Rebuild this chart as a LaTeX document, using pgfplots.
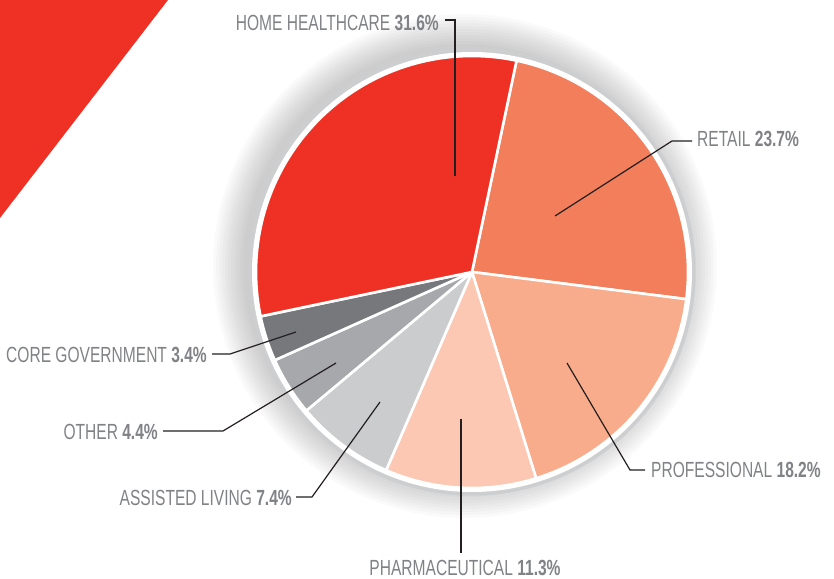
\documentclass[border=0pt]{standalone}
\usepackage{fontspec}
\setmainfont{Liberation Sans}[FakeStretch=0.71]
\usepackage{pgfplots}
\pgfplotsset{compat=1.18}
\definecolor{hhred}{HTML}{EE3124}
\definecolor{retail}{HTML}{F37E5B}
\definecolor{prof}{HTML}{F9AC8B}
\definecolor{pharma}{HTML}{FCC8B3}
\definecolor{assist}{HTML}{CBCCCE}
\definecolor{other}{HTML}{A7A8AB}
\definecolor{coregov}{HTML}{77787B}
\definecolor{txt}{HTML}{808285}
\definecolor{ring}{HTML}{CDCED0}
\definecolor{lead}{HTML}{231F20}
\tikzset{lbl/.style={inner sep=0pt, text=txt, font=\fontsize{22}{22}\selectfont}}
\begin{document}
\begin{tikzpicture}
\begin{axis}[
  at={(0,0)}, anchor=south west,
  scale only axis, width=834bp, height=579bp,
  xmin=0, xmax=834, ymin=0, ymax=579,
  hide axis, clip=true,
  every axis plot/.append style={no marks},
]
% red corner triangle
\addplot[fill=hhred, draw=none] coordinates {(0,579) (168,579) (0,361)} -- cycle;
% soft shadow (offset up-left)
\pgfplotsinvokeforeach{252,249,246,243,240,237,234,231,228,225,222}{
  \addplot[fill=black, fill opacity=0.018, draw=none, domain=0:360, samples=181]
    ({465+#1*cos(x)},{313+#1*sin(x)}) -- cycle;
}
% gray ring
\addplot[draw=ring, line width=3.5bp, domain=0:360, samples=241]
  ({472+222*cos(x)},{307+222*sin(x)}) -- cycle;
% white disc
\addplot[fill=white, draw=none, domain=0:360, samples=241]
  ({472+220*cos(x)},{307+220*sin(x)}) -- cycle;
% pie slices (percent * 3.6 deg, clockwise from 78.1 deg)
\pgfplotsset{slice/.style={draw=white, line width=2.6bp, line join=round, samples=90}}
% Retail 23.7
\addplot[slice, fill=retail, domain=-7.22:78.1] ({472+216*cos(x)},{307+216*sin(x)}) -- (axis cs:472,307) -- cycle;
% Professional 18.2
\addplot[slice, fill=prof, domain=-72.74:-7.22] ({472+216*cos(x)},{307+216*sin(x)}) -- (axis cs:472,307) -- cycle;
% Pharmaceutical 11.3
\addplot[slice, fill=pharma, domain=-113.42:-72.74] ({472+216*cos(x)},{307+216*sin(x)}) -- (axis cs:472,307) -- cycle;
% Assisted living 7.4
\addplot[slice, fill=assist, domain=-140.06:-113.42] ({472+216*cos(x)},{307+216*sin(x)}) -- (axis cs:472,307) -- cycle;
% Other 4.4
\addplot[slice, fill=other, domain=-155.90:-140.06] ({472+216*cos(x)},{307+216*sin(x)}) -- (axis cs:472,307) -- cycle;
% Core government 3.4
\addplot[slice, fill=coregov, domain=-168.14:-155.90] ({472+216*cos(x)},{307+216*sin(x)}) -- (axis cs:472,307) -- cycle;
% Home healthcare 31.6
\addplot[slice, fill=hhred, domain=-281.9:-168.14] ({472+216*cos(x)},{307+216*sin(x)}) -- (axis cs:472,307) -- cycle;
% leader lines
\pgfplotsset{leader/.style={draw=lead, line width=1.2bp, mark=*, mark size=2.4pt, mark options={fill=lead, draw=lead}, mark indices={1}}}
\addplot[leader] coordinates {(455,403) (455,559) (445,559)};
\addplot[leader] coordinates {(555,363) (672,438) (692,438)};
\addplot[leader] coordinates {(567,216) (630,109) (645,109)};
\addplot[leader] coordinates {(461,160) (461,26)};
\addplot[leader] coordinates {(380,177) (312,82) (296,82)};
\addplot[leader] coordinates {(336,216) (223,148) (163,148)};
\addplot[leader] coordinates {(296,247) (230,225) (212,225)};
% labels
\node[lbl, anchor=base east] at (axis cs:439,548.5) {HOME HEALTHCARE \textbf{31.6\%}};
\node[lbl, anchor=base west] at (axis cs:697,432) {RETAIL \textbf{23.7\%}};
\node[lbl, anchor=base west] at (axis cs:651,101) {PROFESSIONAL \textbf{18.2\%}};
\node[lbl, anchor=base] at (axis cs:465,4) {PHARMACEUTICAL \textbf{11.3\%}};
\node[lbl, anchor=base east] at (axis cs:292,73) {ASSISTED LIVING \textbf{7.4\%}};
\node[lbl, anchor=base east] at (axis cs:158,139) {OTHER \textbf{4.4\%}};
\node[lbl, anchor=base east] at (axis cs:207,216) {CORE GOVERNMENT \textbf{3.4\%}};
\end{axis}
\pgfresetboundingbox
\path[use as bounding box] (0,0) rectangle (834bp,579bp);
\end{tikzpicture}
\end{document}
